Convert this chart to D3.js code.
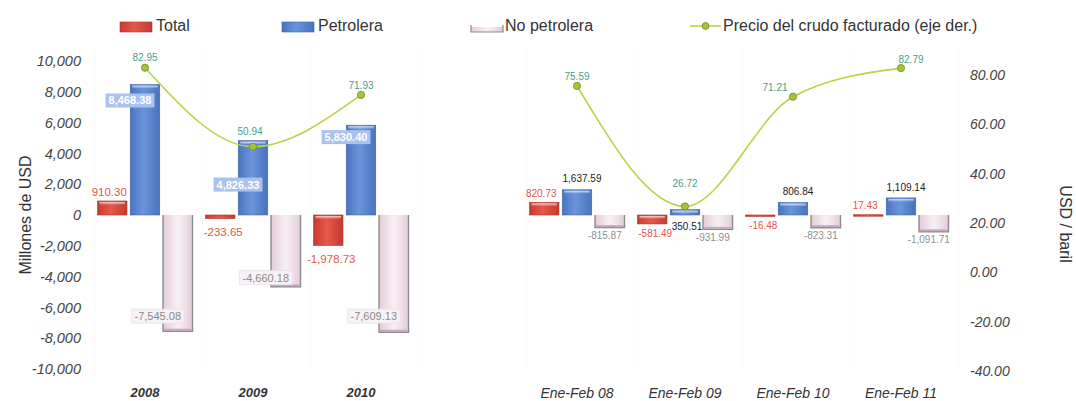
<!DOCTYPE html>
<html>
<head>
<meta charset="utf-8">
<script src="https://cdn.jsdelivr.net/npm/d3@7"></script>
<style>
  body { margin: 0; background: #fff; }
  svg { display: block; font-family: "Liberation Sans", Arial, sans-serif; }
</style>
</head>
<body>
<svg id="chart" width="1076" height="401"></svg>
<script>
// ---- data ----
const categories = ["2008", "2009", "2010", "", "Ene-Feb 08", "Ene-Feb 09", "Ene-Feb 10", "Ene-Feb 11"];
const seriesNames = ["Total", "Petrolera", "No petrolera"];
const total       = [910.30, -233.65, -1978.73, null, 820.73, -581.49, -16.48, 17.43];
const petrolera   = [8468.38, 4826.33, 5830.40, null, 1637.59, 350.51, 806.84, 1109.14];
const noPetrolera = [-7545.08, -4660.18, -7609.13, null, -815.87, -931.99, -823.31, -1091.71];
const precio      = [82.95, 50.94, 71.93, null, 75.59, 26.72, 71.21, 82.79];
const lineName = "Precio del crudo facturado (eje der.)";
const leftTicks  = [10000, 8000, 6000, 4000, 2000, 0, -2000, -4000, -6000, -8000, -10000];
const rightTicks = [80, 60, 40, 20, 0, -20, -40];
const leftTitle = "Millones de USD";
const rightTitle = "USD / baril";

// ---- formats (plain hyphen minus) ----
const loc = d3.formatLocale({decimal: ".", thousands: ",", grouping: [3], currency: ["$", ""], minus: "-"});
const fmtAxis = loc.format(",");
const fmtVal = loc.format(",.2f");
const fmtPct = loc.format(".2f");

const svg = d3.select("#chart");
const idx = categories.map((c, i) => i);

// ---- scales ----
const x = d3.scaleBand().domain(idx).range([91, 955]).paddingInner(0.12).paddingOuter(0.06);
const xs = d3.scaleBand().domain(seriesNames).range([0, x.bandwidth()]).paddingInner(0.1);
const yL = d3.scaleLinear().domain([-10000, 10000]).range([369, 61]);
const yR = d3.scaleLinear().domain([-40, 80]).range([371, 75]);

// ---- gradients ----
const defs = svg.append("defs");
function vGrad(id, stops) {
  const g = defs.append("linearGradient").attr("id", id).attr("x1", 0).attr("y1", 0).attr("x2", 0).attr("y2", 1);
  stops.forEach(s => g.append("stop").attr("offset", s[0]).attr("stop-color", s[1]));
}
function hGrad(id, stops) {
  const g = defs.append("linearGradient").attr("id", id).attr("x1", 0).attr("y1", 0).attr("x2", 1).attr("y2", 0);
  stops.forEach(s => g.append("stop").attr("offset", s[0]).attr("stop-color", s[1]));
}
hGrad("gRed", [[0, "#c8392f"], [0.45, "#e8584b"], [1, "#c23a30"]]);
hGrad("gBlue", [[0, "#4a73c0"], [0.45, "#6a95dc"], [1, "#4a72bd"]]);
hGrad("gPink", [[0, "#e2ccd9"], [0.5, "#f8f0f5"], [1, "#e2ccd9"]]);
vGrad("gShine", [[0, "rgba(255,255,255,0.75)"], [1, "rgba(255,255,255,0)"]]);

// ---- faint vertical grid ----
svg.append("g").selectAll("line").data(idx.concat([8])).join("line")
  .attr("x1", i => (i < 8 ? x(i) : x(7) + x.step()) - 3)
  .attr("x2", i => (i < 8 ? x(i) : x(7) + x.step()) - 3)
  .attr("y1", 50).attr("y2", 372)
  .attr("stroke", "#ececec").attr("stroke-dasharray", "1,3");

// ---- axes ----
const axL = svg.append("g").attr("transform", "translate(87,0)")
  .call(d3.axisLeft(yL).tickValues(leftTicks).tickFormat(fmtAxis).tickSize(0).tickPadding(6));
axL.select(".domain").remove();
axL.selectAll("text").attr("font-size", 14.5).attr("font-style", "italic").attr("fill", "#444")
  .attr("font-family", "Liberation Sans, Arial, sans-serif");

const axR = svg.append("g").attr("transform", "translate(968,0)")
  .call(d3.axisRight(yR).tickValues(rightTicks).tickFormat(fmtPct).tickSize(0).tickPadding(2));
axR.select(".domain").remove();
axR.selectAll("text").attr("font-size", 14).attr("font-style", "italic").attr("fill", "#444")
  .attr("font-family", "Liberation Sans, Arial, sans-serif");

const axX = svg.append("g").attr("transform", "translate(0,380)")
  .call(d3.axisBottom(x).tickFormat(i => categories[i]).tickSize(0).tickPadding(8));
axX.select(".domain").remove();
axX.selectAll("text")
  .attr("font-family", "Liberation Sans, Arial, sans-serif")
  .attr("font-style", "italic").attr("fill", "#333")
  .attr("font-size", i => i < 3 ? 13 : 14)
  .attr("font-weight", i => i < 3 ? "bold" : "normal");

svg.append("text").attr("transform", "translate(27,215) rotate(-90)")
  .attr("text-anchor", "middle").attr("dominant-baseline", "middle")
  .attr("font-size", 16).attr("fill", "#333").text(leftTitle);
svg.append("text").attr("transform", "translate(1064,224) rotate(90)")
  .attr("text-anchor", "middle").attr("dominant-baseline", "middle")
  .attr("font-size", 16).attr("fill", "#333").text(rightTitle);

// ---- bars ----
const barRows = idx.filter(i => petrolera[i] != null);
function bar(v) {
  const y0 = yL(Math.max(0, v)), y1 = yL(Math.min(0, v));
  return {y: y0, h: Math.max(1.5, y1 - y0)};
}
const gBars = svg.append("g");

// Total
barRows.forEach(i => {
  const b = bar(total[i]), bx = x(i) + xs("Total"), w = xs.bandwidth();
  gBars.append("rect").attr("x", bx).attr("y", b.y).attr("width", w).attr("height", b.h)
    .attr("fill", "url(#gRed)").attr("stroke", "#b3342c").attr("stroke-width", 0.6);
  if (b.h > 4) gBars.append("rect").attr("x", bx + 2).attr("y", b.y + 1).attr("width", w - 4).attr("height", 3)
    .attr("fill", "url(#gShine)");
});
// Petrolera
barRows.forEach(i => {
  const b = bar(petrolera[i]), bx = x(i) + xs("Petrolera"), w = xs.bandwidth();
  gBars.append("rect").attr("x", bx).attr("y", b.y).attr("width", w).attr("height", b.h)
    .attr("fill", "url(#gBlue)").attr("stroke", "#3f64a8").attr("stroke-width", 0.6);
  gBars.append("rect").attr("x", bx + 2).attr("y", b.y + 1).attr("width", w - 4).attr("height", 3)
    .attr("fill", "url(#gShine)");
});
// No petrolera: pale fill with grey side walls
barRows.forEach(i => {
  const b = bar(noPetrolera[i]), bx = x(i) + xs("No petrolera"), w = xs.bandwidth();
  gBars.append("rect").attr("x", bx).attr("y", b.y).attr("width", w).attr("height", b.h)
    .attr("fill", "url(#gPink)");
  gBars.append("path")
    .attr("d", `M${bx},${b.y}V${b.y + b.h}H${bx + w}V${b.y}`)
    .attr("fill", "none").attr("stroke", "#8c8a8e").attr("stroke-width", 1.4);
  gBars.append("line").attr("x1", bx + 1).attr("x2", bx + w - 1)
    .attr("y1", b.y + b.h - 1.5).attr("y2", b.y + b.h - 1.5)
    .attr("stroke", "#c9a9bf").attr("stroke-width", 2);
});

// ---- bar value labels ----
const gLab = svg.append("g").attr("font-family", "Liberation Sans, Arial, sans-serif");
const petroDrop = {0: 17, 1: 45, 2: 13};
const pinkRise = {0: 14, 1: 8, 2: 15};

barRows.forEach(i => {
  const small = i > 3;
  const fs = small ? 10 : 11;
  // Total
  const tv = total[i], tb = bar(tv), tcx = x(i) + xs("Total") + xs.bandwidth() / 2;
  gLab.append("text").attr("x", tcx + (tv < 0 ? 3 : -3))
    .attr("y", tv >= 0 ? tb.y - 8 : tb.y + tb.h + (small ? 10 : 14))
    .attr("text-anchor", "middle").attr("font-size", small ? 10 : 11.5).attr("fill", "#e5554b")
    .attr("dominant-baseline", "middle").text(fmtVal(tv));

  // Petrolera
  const pv = petrolera[i], pb = bar(pv), pcx = x(i) + xs("Petrolera") + xs.bandwidth() / 2;
  if (!small) {
    const cx = pcx - 15, cy = pb.y + petroDrop[i];
    const t = gLab.append("text").attr("x", cx).attr("y", cy).attr("text-anchor", "middle")
      .attr("dominant-baseline", "middle").attr("font-size", fs).attr("font-weight", "bold")
      .attr("fill", "#fff").text(fmtVal(pv));
    const bb = t.node().getBBox();
    gLab.insert("rect", () => t.node()).attr("x", bb.x - 3).attr("y", bb.y - 1)
      .attr("width", bb.width + 6).attr("height", bb.height + 2).attr("fill", "#a9c2ee");
  } else {
    const below = pv < 500;
    gLab.append("text").attr("x", pcx + (below ? 2 : 5))
      .attr("y", below ? yL(0) + 12 : pb.y - 10)
      .attr("text-anchor", "middle").attr("dominant-baseline", "middle")
      .attr("font-size", fs).attr("fill", "#222").text(fmtVal(pv));
  }

  // No petrolera
  const nv = noPetrolera[i], nb = bar(nv), ncx = x(i) + xs("No petrolera") + xs.bandwidth() / 2;
  if (!small) {
    const cx = ncx - 20, cy = nb.y + nb.h - pinkRise[i];
    const t = gLab.append("text").attr("x", cx).attr("y", cy).attr("text-anchor", "middle")
      .attr("dominant-baseline", "middle").attr("font-size", fs)
      .attr("fill", "#8a8a8a").text(fmtVal(nv));
    const bb = t.node().getBBox();
    gLab.insert("rect", () => t.node()).attr("x", bb.x - 3).attr("y", bb.y - 1)
      .attr("width", bb.width + 6).attr("height", bb.height + 2)
      .attr("fill", "#f8f2f6").attr("stroke", "#ebe0e7").attr("stroke-width", 0.8);
  } else {
    gLab.append("text").attr("x", ncx - 5).attr("y", nb.y + nb.h + 9)
      .attr("text-anchor", "middle").attr("dominant-baseline", "middle")
      .attr("font-size", fs).attr("fill", "#8f8f8f").text(fmtVal(nv));
  }
});

// ---- price line (right axis) ----
const px = i => x(i) + xs("Petrolera") + xs.bandwidth() / 2;
const line = d3.line().defined(i => precio[i] != null)
  .x(px).y(i => yR(precio[i])).curve(d3.curveMonotoneX);
svg.append("path").attr("d", line(idx)).attr("fill", "none")
  .attr("stroke", "#b6d444").attr("stroke-width", 1.6);
const pts = idx.filter(i => precio[i] != null);
svg.append("g").selectAll("circle").data(pts).join("circle")
  .attr("cx", px).attr("cy", i => yR(precio[i])).attr("r", 3.6)
  .attr("fill", "#a3c43c").attr("stroke", "#6f8c22").attr("stroke-width", 0.8);
const lineLabelNudge = {1: [-3, 14], 5: [0, 22], 6: [-18, 8], 7: [10, 8]};
svg.append("g").selectAll("text").data(pts).join("text")
  .attr("x", i => px(i) + (lineLabelNudge[i] ? lineLabelNudge[i][0] : 0))
  .attr("y", i => yR(precio[i]) - (lineLabelNudge[i] ? lineLabelNudge[i][1] : 9))
  .attr("text-anchor", "middle").attr("dominant-baseline", "middle")
  .attr("font-size", 10).attr("fill", "#3f9f8c").text(i => fmtPct(precio[i]));

// ---- legend ----
const gLeg = svg.append("g").attr("font-size", 16).attr("fill", "#333");
const legX = [120, 282, 471, 690];
// Total
gLeg.append("rect").attr("x", legX[0]).attr("y", 22).attr("width", 32).attr("height", 10)
  .attr("fill", "url(#gRed)").attr("stroke", "#b3342c").attr("stroke-width", 0.6);
gLeg.append("text").attr("x", legX[0] + 36).attr("y", 27).attr("dominant-baseline", "middle").text(seriesNames[0]);
// Petrolera
gLeg.append("rect").attr("x", legX[1]).attr("y", 22).attr("width", 32).attr("height", 10)
  .attr("fill", "url(#gBlue)").attr("stroke", "#3f64a8").attr("stroke-width", 0.6);
gLeg.append("text").attr("x", legX[1] + 36).attr("y", 27).attr("dominant-baseline", "middle").text(seriesNames[1]);
// No petrolera
gLeg.append("rect").attr("x", legX[2]).attr("y", 27).attr("width", 32).attr("height", 5).attr("fill", "url(#gPink)");
gLeg.append("path").attr("d", `M${legX[2]},25V32H${legX[2] + 32}V25`)
  .attr("fill", "none").attr("stroke", "#8c8a8e").attr("stroke-width", 1.2);
gLeg.append("text").attr("x", legX[2] + 34).attr("y", 27).attr("dominant-baseline", "middle").text(seriesNames[2]);
// Price line
gLeg.append("line").attr("x1", legX[3]).attr("x2", legX[3] + 31).attr("y1", 26).attr("y2", 26)
  .attr("stroke", "#b6d444").attr("stroke-width", 1.6);
gLeg.append("circle").attr("cx", legX[3] + 15.5).attr("cy", 26).attr("r", 3.4)
  .attr("fill", "#a3c43c").attr("stroke", "#6f8c22").attr("stroke-width", 0.8);
gLeg.append("text").attr("x", legX[3] + 33).attr("y", 27).attr("dominant-baseline", "middle").text(lineName);
</script>
</body>
</html>
